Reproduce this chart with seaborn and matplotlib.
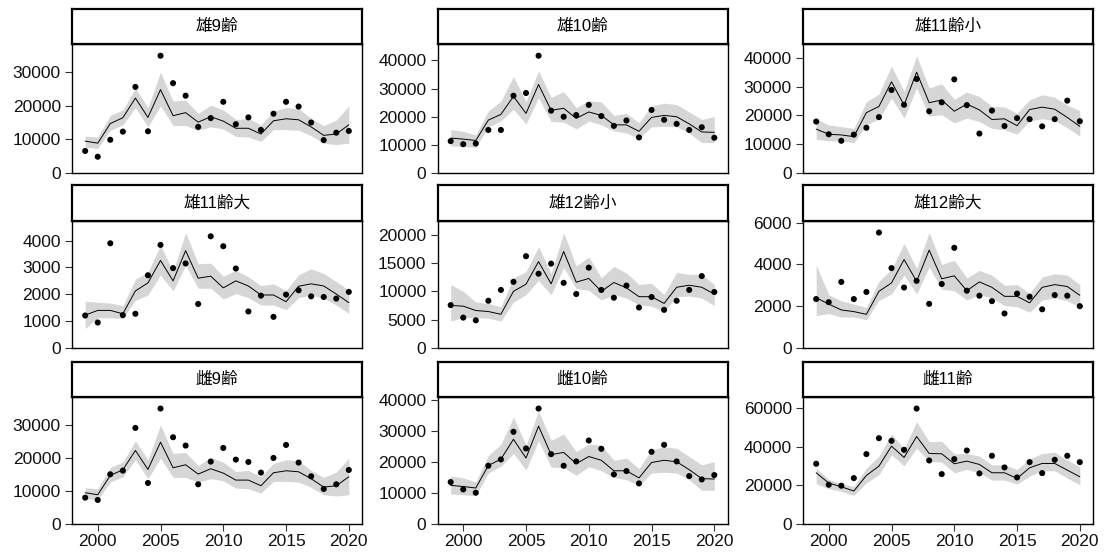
import matplotlib
matplotlib.use("Agg")
import matplotlib.pyplot as plt
import seaborn as sns
import pandas as pd

years = list(range(1999, 2021))

titles = ["雄9齢", "雄10齢", "雄11齢小", "雄11齢大", "雄12齢小", "雄12齢大", "雌9齢", "雌10齢", "雌11齢"]

# ---- 雄9齢 ----
m9_obs = [6550, 4830, 9870, 12290, 25580, 12390, 34840, 26690, 22960, 13700, 16310,
          21150, 14500, 16520, 12790, 17620, 21150, 19740, 15000, 9770, 11980, 12490]
m9_est = [9470, 8860, 14700, 16410, 22260, 16520, 24770, 17020, 17930, 15110, 16720,
          15410, 13290, 13290, 11580, 15510, 16110, 15810, 13700, 11180, 11580, 14300]
m9_hi = [10980, 10670, 17120, 18730, 25180, 19440, 30010, 21350, 21650, 17720, 20140,
         18730, 15910, 16210, 14300, 18330, 19440, 19130, 16210, 14100, 15710, 19940]
m9_lo = [7650, 7350, 12690, 14300, 19440, 13700, 19940, 14100, 14100, 12690, 13700,
         13090, 10880, 10670, 9370, 12890, 12890, 12690, 11080, 8860, 8460, 8860]

# ---- 雄10齢 ----
m10_obs = [11330, 10240, 10480, 15300, 15300, 27470, 28430, 41690, 22170, 20000, 20600,
           24220, 20240, 16750, 18670, 12650, 22410, 18920, 17470, 15300, 16270, 12530]
m10_est = [12410, 12050, 11570, 18800, 20840, 27230, 21200, 31450, 22290, 23010, 19400,
           21690, 20480, 17110, 17110, 14820, 19760, 20480, 20000, 17470, 14580, 14460]
m10_hi = [15420, 14820, 13490, 22050, 25540, 34340, 25300, 36270, 26870, 28920, 23250,
          25660, 25300, 20480, 21200, 17830, 23860, 24820, 24340, 21690, 19040, 20000]
m10_lo = [9640, 9400, 9160, 16390, 18550, 22650, 17350, 26750, 18310, 18070, 15660,
          18430, 17110, 14940, 14220, 12290, 16390, 16630, 16390, 14220, 10840, 10840]

# ---- 雄11齢小 ----
m11s_obs = [17860, 13450, 11190, 13330, 15710, 19400, 28810, 23690, 32620, 21430, 24520,
            32500, 23570, 13690, 21670, 16310, 19050, 18690, 16190, 18690, 25120, 17980]
m11s_est = [15240, 13450, 13210, 12620, 20950, 23100, 31670, 23570, 35000, 24400, 25360,
            21430, 23930, 21900, 18570, 18810, 16430, 22020, 22860, 22140, 19290, 16190]
m11s_hi = [18810, 16670, 16070, 15480, 24760, 27380, 37140, 28330, 40710, 29520, 30950,
           25600, 28100, 26550, 23100, 22980, 20710, 25360, 27140, 26310, 23570, 21670]
m11s_lo = [11670, 11190, 11190, 10480, 16670, 18810, 25950, 19050, 29520, 19760, 20240,
           17380, 19050, 17860, 15480, 15000, 13450, 18100, 18810, 18210, 15710, 12860]

# ---- 雄11齢大 ----
m11l_obs = [1210, 950, 3900, 1225, 1275, 2710, 3840, 2975, 3150, 1640, 4160,
            3790, 2960, 1360, 1950, 1160, 1990, 2150, 1925, 1900, 1840, 2090]
m11l_est = [1225, 1400, 1400, 1275, 2125, 2425, 3260, 2500, 3625, 2600, 2675,
            2240, 2500, 2310, 1975, 1975, 1725, 2300, 2390, 2310, 2010, 1690]
m11l_hi = [1750, 1700, 1675, 1575, 2560, 2825, 3825, 2850, 4300, 3140, 3160,
           2675, 2890, 2650, 2325, 2390, 2140, 2725, 2950, 2775, 2475, 2150]
m11l_lo = [725, 1125, 1125, 1100, 1775, 1975, 2725, 2125, 3075, 2225, 2225,
           1825, 2025, 1875, 1600, 1600, 1425, 1875, 1975, 1850, 1600, 1290]

# ---- 雄12齢小 ----
m12s_obs = [7560, 5360, 4880, 8330, 10240, 11670, 16190, 13100, 14880, 11490, 9520,
            14170, 10240, 8870, 11010, 7140, 8990, 6730, 8330, 10240, 12680, 9880]
m12s_est = [7500, 7380, 6610, 6430, 5950, 10000, 11250, 15240, 11310, 17020, 11610,
            12260, 10000, 11550, 10600, 9050, 9050, 7860, 10710, 11070, 10710, 9520]
m12s_hi = [11190, 10000, 8100, 7860, 7260, 12380, 13450, 17860, 13100, 20360, 14460,
           16070, 12380, 14400, 13210, 11190, 11430, 9400, 13330, 12980, 12980, 11190]
m12s_lo = [4760, 5360, 5360, 5240, 4760, 8100, 9400, 11900, 9400, 14170, 10480,
           10180, 8450, 9400, 8810, 7620, 7380, 6430, 9050, 9170, 8810, 7500]

# ---- 雄12齢大 ----
m12l_obs = [2340, 2190, 3160, 2340, 2680, 5520, 3820, 2890, 3210, 2110, 3060,
            4790, 2740, 2500, 2240, 1650, 2600, 2450, 1850, 2530, 2500, 2000]
m12l_est = [2400, 2100, 1820, 1740, 1610, 2710, 3110, 4230, 3190, 4680, 3310,
            3450, 2740, 3160, 2900, 2470, 2470, 2160, 2900, 3030, 2940, 2520]
m12l_hi = [3970, 2550, 2260, 2100, 1940, 3190, 3760, 5000, 3810, 5520, 4000,
           4190, 3350, 3710, 3480, 3000, 3030, 2610, 3390, 3550, 3480, 3030]
m12l_lo = [1550, 1650, 1480, 1480, 1350, 2290, 2580, 3480, 2580, 3870, 2810,
           2740, 2290, 2550, 2390, 2030, 1970, 1710, 2290, 2390, 2260, 1970]

# ---- 雌9齢 (same fitted line as 雄9齢) ----
f9_obs = [7980, 7270, 15050, 16160, 29090, 12420, 34950, 26260, 23740, 12020, 18890,
          23030, 19490, 18790, 15560, 20000, 23940, 18590, 14440, 10610, 12020, 16360]
f9_est, f9_hi, f9_lo = m9_est, m9_hi, m9_lo

# ---- 雌10齢 (same fitted line as 雄10齢) ----
f10_obs = [13480, 11120, 10050, 18720, 20750, 29630, 24280, 37110, 22460, 18720, 20110,
           26840, 24170, 15940, 17010, 13050, 23210, 25450, 20110, 15400, 14330, 15720]
f10_est, f10_hi, f10_lo = m10_est, m10_hi, m10_lo

# ---- 雌11齢 ----
f11_obs = [31210, 20340, 19830, 23790, 36210, 44480, 43100, 38450, 59830, 32930, 25860,
           33620, 38100, 26210, 35340, 29310, 24140, 32070, 26380, 33280, 35340, 32070]
f11_est = [26550, 21210, 19310, 17070, 25170, 30000, 40340, 34480, 45340, 36550, 36380,
           31210, 32590, 30860, 26550, 26550, 23620, 29140, 31380, 31380, 27930, 24480]
f11_hi = [28970, 23100, 21030, 19310, 28970, 35170, 46720, 38970, 53100, 42590, 42930,
          36380, 36550, 35170, 30690, 30690, 28280, 33790, 36550, 37240, 33100, 29660]
f11_lo = [20860, 18280, 16900, 14830, 21380, 25520, 35860, 30170, 39310, 32410, 32070,
          26550, 28280, 26550, 22760, 22760, 20690, 24830, 27590, 27590, 23790, 20340]

y_ticks = [
    [0, 10000, 20000, 30000],
    [0, 10000, 20000, 30000, 40000],
    [0, 10000, 20000, 30000, 40000],
    [0, 1000, 2000, 3000, 4000],
    [0, 5000, 10000, 15000, 20000],
    [0, 2000, 4000, 6000],
    [0, 10000, 20000, 30000],
    [0, 10000, 20000, 30000, 40000],
    [0, 20000, 40000, 60000],
]
x_ticks = [2000, 2005, 2010, 2015, 2020]

panels = [
    (m9_obs, m9_est, m9_lo, m9_hi),
    (m10_obs, m10_est, m10_lo, m10_hi),
    (m11s_obs, m11s_est, m11s_lo, m11s_hi),
    (m11l_obs, m11l_est, m11l_lo, m11l_hi),
    (m12s_obs, m12s_est, m12s_lo, m12s_hi),
    (m12l_obs, m12l_est, m12l_lo, m12l_hi),
    (f9_obs, f9_est, f9_lo, f9_hi),
    (f10_obs, f10_est, f10_lo, f10_hi),
    (f11_obs, f11_est, f11_lo, f11_hi),
]

sns.set_theme(style="white")
plt.rcParams['font.family'] = ['Liberation Sans', 'Noto Sans CJK JP', 'DejaVu Sans']

W, H = 1105, 554
fig = plt.figure(figsize=(W / 100, H / 100), dpi=100)
fig.patch.set_facecolor("white")

col_left = [72, 437.5, 803]
panel_w = 290
ax_top = [44, 221, 397]
ax_bot = [173, 348, 524]
strip_top = [9, 185, 362]

for i, (title, (obs, est, lo, hi)) in enumerate(zip(titles, panels)):
    r, c = divmod(i, 3)
    x0 = col_left[c]
    ax = fig.add_axes([x0 / W, 1 - ax_bot[r] / H, panel_w / W, (ax_bot[r] - ax_top[r]) / H])
    df = pd.DataFrame({"year": years, "obs": obs, "est": est, "lo": lo, "hi": hi})
    ax.fill_between(df["year"], df["lo"], df["hi"], color="#D6D6D6", linewidth=0, zorder=1)
    sns.lineplot(data=df, x="year", y="est", ax=ax, color="black", linewidth=0.7, zorder=2)
    sns.scatterplot(data=df, x="year", y="obs", ax=ax, color="black", s=19,
                    edgecolor="none", zorder=3)
    ymax = max(max(obs), max(hi)) * 1.1
    ax.set_ylim(0, ymax)
    ax.set_xlim(1997.95, 2021.05)
    ax.set_yticks(y_ticks[i])
    ax.set_yticklabels([str(v) for v in y_ticks[i]])
    ax.set_xlabel("")
    ax.set_ylabel("")
    for sp in ax.spines.values():
        sp.set_visible(True)
        sp.set_color("black")
        sp.set_linewidth(1.0)
    ax.tick_params(axis="y", left=True, length=5, width=0.8, color="#333333",
                   labelsize=12.5, labelcolor="#111111", pad=3)
    if r == 2:
        ax.set_xticks(x_ticks)
        ax.set_xticklabels([str(v) for v in x_ticks])
        ax.tick_params(axis="x", bottom=True, length=5, width=0.8, color="#333333",
                       labelsize=12.5, labelcolor="#111111", pad=2)
    else:
        ax.set_xticks([])
    ax.grid(False)

    # strip
    sax = fig.add_axes([x0 / W, 1 - ax_top[r] / H, panel_w / W, (ax_top[r] - strip_top[r]) / H])
    sax.set_xticks([])
    sax.set_yticks([])
    sax.set_facecolor("white")
    for sp in sax.spines.values():
        sp.set_visible(True)
        sp.set_color("black")
        sp.set_linewidth(1.6)
    sax.text(0.5, 0.5, title, ha="center", va="center", fontsize=12,
             transform=sax.transAxes, color="black")

fig.savefig("out.png", dpi=100, facecolor="white")
